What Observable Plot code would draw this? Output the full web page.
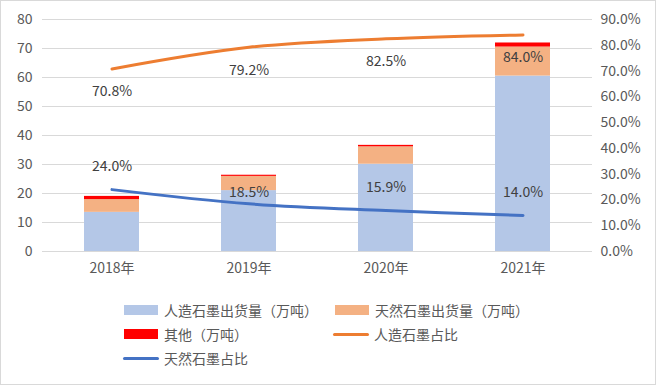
<!DOCTYPE html>
<html>
<head>
<meta charset="utf-8">
<script src="https://cdn.jsdelivr.net/npm/d3@7"></script>
<script src="https://cdn.jsdelivr.net/npm/@observablehq/plot@0.6"></script>
<style>
  html, body { margin: 0; padding: 0; background: #fff; }
  #wrap { position: relative; width: 656px; height: 385px; overflow: hidden; font-family: "Noto Sans CJK SC", "Noto Sans", sans-serif; color: #595959; }
  #frame { position: absolute; left: 0; top: 0; width: 656px; height: 385px; box-sizing: border-box; border: 1px solid #d9d9d9; pointer-events: none; }
  #chart { position: absolute; left: 0; top: 0; }
  .lg { position: absolute; display: flex; align-items: center; font-size: 14px; white-space: nowrap; }
  .sw { width: 34px; height: 10px; margin-right: 6px; }
  .ln { width: 36px; height: 3px; border-radius: 2px; margin-right: 5px; }
</style>
</head>
<body>
<div id="wrap">
  <div id="chart"></div>
  <div id="legend"></div>
  <div id="frame"></div>
</div>
<script>
// ---- data ----
const years = ["2018年", "2019年", "2020年", "2021年"];
const artificial = [13.5, 21.0, 30.1, 60.5];   // 人造石墨出货量（万吨）
const natural = [4.4, 4.9, 6.0, 10.0];          // 天然石墨出货量（万吨）
const other = [1.1, 0.4, 0.5, 1.4];             // 其他（万吨）
const artificialShare = [0.708, 0.792, 0.825, 0.840]; // 人造石墨占比
const naturalShare = [0.240, 0.185, 0.159, 0.140];    // 天然石墨占比
const leftTicks = [0, 10, 20, 30, 40, 50, 60, 70, 80];
const rightTicks = [0, 0.1, 0.2, 0.3, 0.4, 0.5, 0.6, 0.7, 0.8, 0.9];
const seriesNames = ["人造石墨出货量（万吨）", "天然石墨出货量（万吨）", "其他（万吨）", "人造石墨占比", "天然石墨占比"];
const seriesColors = ["#B4C7E7", "#F4B183", "#FF0000", "#ED7D31", "#4472C4"];

// ---- derived tables ----
const barRows = [];
years.forEach((y, i) => {
  barRows.push({year: y, series: seriesNames[0], value: artificial[i]});
  barRows.push({year: y, series: seriesNames[1], value: natural[i]});
  barRows.push({year: y, series: seriesNames[2], value: other[i]});
});
const pctMax = 0.9, yMax = 80;
const toY = p => p / pctMax * yMax;
const artRows = years.map((y, i) => ({year: y, p: artificialShare[i], v: toY(artificialShare[i])}));
const natRows = years.map((y, i) => ({year: y, p: naturalShare[i], v: toY(naturalShare[i])}));
const fmtPct = d3.format(".1%");

const chart = Plot.plot({
  width: 656,
  height: 290,
  marginTop: 19,
  marginBottom: 39,
  marginLeft: 42,
  marginRight: 64,
  style: {fontFamily: '"Noto Sans CJK SC", "Noto Sans", sans-serif', fontSize: "14px", color: "#595959", background: "transparent"},
  x: {domain: years, paddingInner: 0.6, paddingOuter: 0.3, label: null},
  y: {domain: [0, yMax], label: null},
  color: {domain: seriesNames, range: seriesColors},
  marks: [
    Plot.gridY(leftTicks, {stroke: "#d9d9d9", strokeOpacity: 1, strokeWidth: 1}),
    Plot.barY(barRows, Plot.stackY({x: "year", y: "value", fill: "series"})),
    Plot.line(artRows, {x: "year", y: "v", stroke: seriesColors[3], strokeWidth: 3, curve: "catmull-rom"}),
    Plot.line(natRows, {x: "year", y: "v", stroke: seriesColors[4], strokeWidth: 3, curve: "catmull-rom"}),
    Plot.text(artRows, {x: "year", y: "v", text: d => fmtPct(d.p), dy: 23, fontSize: 14, fill: "#404040"}),
    Plot.text(natRows.filter((d, i) => i !== 1), {x: "year", y: "v", text: d => fmtPct(d.p), dy: -23, fontSize: 14, fill: "#404040"}),
    Plot.text(natRows.filter((d, i) => i === 1), {x: "year", y: "v", text: d => fmtPct(d.p), dy: -11, fontSize: 14, fill: "#404040"}),
    Plot.ruleY([0], {stroke: "#d9d9d9"}),
    Plot.axisY(leftTicks, {anchor: "left", tickSize: 0, tickPadding: 10, label: null, fill: "#595959", fontSize: 14}),
    Plot.axisY(rightTicks.map(toY), {anchor: "right", tickSize: 0, tickPadding: 8, label: null, fill: "#595959", textAnchor: "start", fontSize: 14,
      tickFormat: d => (Math.round(d / yMax * pctMax * 1000) / 10).toFixed(1) + "%"}),
    Plot.axisX({anchor: "bottom", tickSize: 0, tickPadding: 12, label: null, fill: "#595959", fontSize: 14})
  ]
});
document.getElementById("chart").appendChild(chart);

// ---- legend ----
const legendItems = [
  {name: seriesNames[0], color: seriesColors[0], kind: "sw", left: 124, top: 310},
  {name: seriesNames[1], color: seriesColors[1], kind: "sw", left: 335, top: 310},
  {name: seriesNames[2], color: seriesColors[2], kind: "sw", left: 124, top: 334},
  {name: seriesNames[3], color: seriesColors[3], kind: "ln", left: 333, top: 334},
  {name: seriesNames[4], color: seriesColors[4], kind: "ln", left: 123, top: 358}
];
const lg = document.getElementById("legend");
legendItems.forEach(it => {
  const d = document.createElement("div");
  d.className = "lg";
  d.style.left = it.left + "px";
  d.style.top = (it.top - 10) + "px";
  d.style.height = "20px";
  const s = document.createElement("span");
  s.className = it.kind;
  s.style.background = it.color;
  const t = document.createElement("span");
  t.textContent = it.name;
  d.appendChild(s); d.appendChild(t);
  lg.appendChild(d);
});
</script>
</body>
</html>
